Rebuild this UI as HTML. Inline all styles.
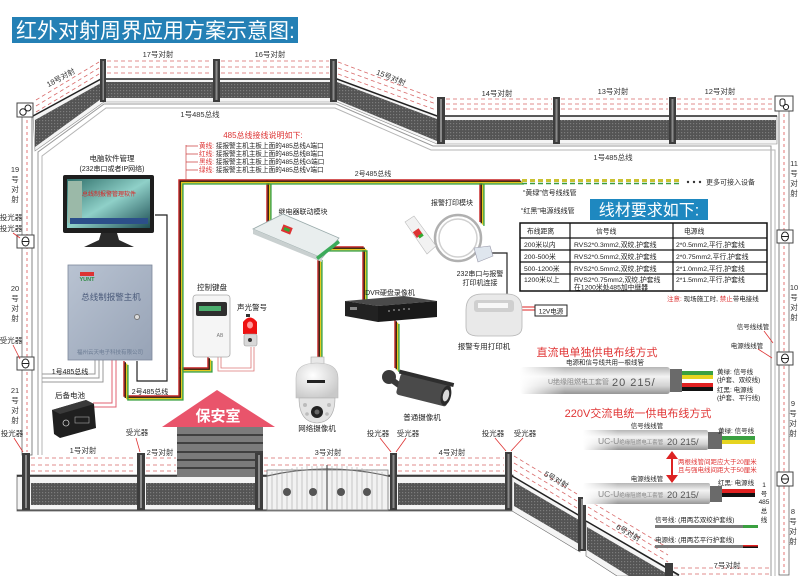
<!DOCTYPE html>
<html><head><meta charset="utf-8">
<style>
html,body{margin:0;padding:0;background:#fff;width:800px;height:576px;overflow:hidden;}
svg{display:block;}
text{font-family:"Liberation Sans","Noto Sans CJK SC",sans-serif;}
</style></head><body>
<svg width="800" height="576" viewBox="0 0 800 576" xmlns="http://www.w3.org/2000/svg" style="overflow:hidden">
<defs>
 <linearGradient id="tube" x1="0" y1="0" x2="0" y2="1">
  <stop offset="0" stop-color="#b5b5b5"/><stop offset="0.35" stop-color="#f3f3f3"/><stop offset="0.7" stop-color="#d2d2d2"/><stop offset="1" stop-color="#959595"/>
 </linearGradient>
 <linearGradient id="fadeL" x1="0" y1="0" x2="1" y2="0">
  <stop offset="0" stop-color="#fff" stop-opacity="1"/><stop offset="1" stop-color="#fff" stop-opacity="0"/>
 </linearGradient>
 <linearGradient id="scr" x1="0" y1="0" x2="1" y2="1">
  <stop offset="0" stop-color="#2f6f6a"/><stop offset="0.5" stop-color="#8fd0c8"/><stop offset="1" stop-color="#1f4f55"/>
 </linearGradient>
 <linearGradient id="host" x1="0" y1="0" x2="1" y2="1">
  <stop offset="0" stop-color="#b9c3d2"/><stop offset="1" stop-color="#97a3b6"/>
 </linearGradient>
 <radialGradient id="dome" cx="0.4" cy="0.35" r="0.7">
  <stop offset="0" stop-color="#ffffff"/><stop offset="1" stop-color="#c9c9c9"/>
 </radialGradient>
 <pattern id="mesh" width="3" height="3" patternUnits="userSpaceOnUse">
  <rect width="3" height="3" fill="#545454"/><rect width="1.2" height="1.2" fill="#7c7c7c"/>
 </pattern>
 <path id="bA" d="M520 180 H179 V396 H124 V361"/>
 <path id="bB" d="M267 180 V222"/>
 <path id="bC" d="M480 180 V222"/>
 <path id="bD" d="M318 247 H363 V300"/>
 <path id="bE" d="M318 256 V359"/>
 <path id="bF" d="M395 320 V368"/>
 <path id="bG" d="M179 368 H208 V357"/>
</defs>

<!-- Title -->
<rect x="12" y="17" width="286" height="26" fill="#2480b5"/>
<text x="16" y="38" font-size="21" fill="#fff">红外对射周界应用方案示意图:</text>

<!-- ================= TOP FENCE ================= -->
<g stroke="#d86a6a" stroke-width="0.8" stroke-dasharray="4,3" fill="none">
 <path d="M36 100 L99 62 M36 106 L99 68 M36 112 L99 74"/>
 <path d="M107 61 H212 M107 67 H212 M107 73 H212"/>
 <path d="M221 61 H329 M221 67 H329 M221 73 H329"/>
 <path d="M338 62 L436 99 M338 68 L436 104 M338 74 L436 110"/>
 <path d="M446 99 H552 M446 104 H552 M446 109 H552"/>
 <path d="M561 99 H668 M561 104 H668 M561 109 H668"/>
 <path d="M677 99 H774 M677 104 H774 M677 109 H774"/>
</g>
<polygon points="33,116 101,79 337,79 437,116 777,116 777,144 437,144 337,102 104,102 35,151" fill="#f4f4f4" stroke="#888" stroke-width="0.6"/>
<polygon points="35,120 101,83 101,99 35,147" fill="url(#mesh)"/>
<rect x="104" y="82" width="230" height="16" fill="url(#mesh)"/>
<polygon points="337,82 437,119 437,141 337,100" fill="url(#mesh)"/>
<rect x="445" y="120" width="331" height="20" fill="url(#mesh)"/>
<path d="M33 116 L101 79 H337 L437 116 H777" stroke="#222" stroke-width="1.5" fill="none"/>
<polyline points="38,455 38,152 104,104 336,104 433,146 771,146 771,576" fill="none" stroke="#9a9a9a" stroke-width="1"/>
<polyline points="42,455 42,156 106,108 335,108 431,150 775,150 775,576" fill="none" stroke="#b5b5b5" stroke-width="1"/>
<g fill="#3d3d3d">
 <rect x="100" y="59" width="6" height="43"/><rect x="213" y="59" width="7" height="43"/><rect x="330" y="59" width="7" height="43"/>
 <rect x="437" y="97" width="8" height="47"/><rect x="553" y="97" width="7" height="47"/><rect x="669" y="97" width="7" height="47"/>
</g>
<g fill="#8a8a8a">
 <rect x="102.5" y="61" width="1.5" height="39"/><rect x="215.5" y="61" width="2" height="39"/><rect x="332.5" y="61" width="2" height="39"/>
 <rect x="440" y="99" width="2" height="43"/><rect x="555.5" y="99" width="2" height="43"/><rect x="671.5" y="99" width="2" height="43"/>
</g>
<g font-size="7.5" fill="#333">
 <text x="62" y="80" transform="rotate(-28 62 80)" text-anchor="middle">18号对射</text>
 <text x="158" y="57" text-anchor="middle">17号对射</text>
 <text x="270" y="57" text-anchor="middle">16号对射</text>
 <text x="390" y="80" transform="rotate(22 390 80)" text-anchor="middle">15号对射</text>
 <text x="497" y="96" text-anchor="middle">14号对射</text>
 <text x="613" y="94" text-anchor="middle">13号对射</text>
 <text x="720" y="94" text-anchor="middle">12号对射</text>
 <text x="200" y="117" text-anchor="middle">1号485总线</text>
 <text x="613" y="160" text-anchor="middle">1号485总线</text>
</g>

<!-- ================= SIDE PILLARS ================= -->
<rect x="22" y="117" width="10" height="338" fill="#fff" stroke="#666" stroke-width="0.8"/>
<line x1="27" y1="120" x2="27" y2="452" stroke="#d55" stroke-width="0.8" stroke-dasharray="3,3"/>
<rect x="779" y="111" width="10" height="464" fill="#fff" stroke="#666" stroke-width="0.8"/>
<line x1="784" y1="114" x2="784" y2="575" stroke="#d55" stroke-width="0.8" stroke-dasharray="3,3"/>
<rect x="17" y="103" width="16" height="14" fill="#fff" stroke="#444"/>
<circle cx="23" cy="112" r="3.2" fill="none" stroke="#222"/><circle cx="28" cy="108" r="3" fill="none" stroke="#222"/>
<rect x="775" y="96" width="18" height="15" fill="#fff" stroke="#444"/>
<rect x="780" y="99" width="5" height="7" rx="2" fill="none" stroke="#222"/><circle cx="786" cy="107" r="2.6" fill="none" stroke="#222"/>
<g fill="#fff" stroke="#444" stroke-width="1">
 <rect x="17" y="235" width="17" height="13"/><rect x="17" y="357" width="17" height="13"/>
 <rect x="777" y="230" width="16" height="13"/><rect x="777" y="352" width="16" height="13"/><rect x="777" y="472" width="16" height="14"/>
</g>
<g fill="none" stroke="#222" stroke-width="1">
 <ellipse cx="25.5" cy="241.5" rx="3.5" ry="4.5"/><line x1="22" y1="241.5" x2="29" y2="241.5"/>
 <ellipse cx="25.5" cy="363.5" rx="3.5" ry="4.5"/><line x1="22" y1="363.5" x2="29" y2="363.5"/>
 <ellipse cx="785" cy="236.5" rx="3.5" ry="4.5"/><line x1="781.5" y1="236.5" x2="788.5" y2="236.5"/>
 <ellipse cx="785" cy="358.5" rx="3.5" ry="4.5"/><line x1="781.5" y1="358.5" x2="788.5" y2="358.5"/>
 <ellipse cx="785" cy="479" rx="3.5" ry="4.5"/><line x1="781.5" y1="479" x2="788.5" y2="479"/>
</g>
<g font-size="7.5" fill="#333" text-anchor="middle">
 <text x="11" y="220">投光器</text><text x="11" y="231">投光器</text><text x="11" y="343">受光器</text>
 <text y="172"><tspan x="15">19</tspan><tspan x="15" dy="10">号</tspan><tspan x="15" dy="10">对</tspan><tspan x="15" dy="10">射</tspan></text>
 <text y="291"><tspan x="15">20</tspan><tspan x="15" dy="10">号</tspan><tspan x="15" dy="10">对</tspan><tspan x="15" dy="10">射</tspan></text>
 <text y="393"><tspan x="15">21</tspan><tspan x="15" dy="10">号</tspan><tspan x="15" dy="10">对</tspan><tspan x="15" dy="10">射</tspan></text>
 <text y="166"><tspan x="794">11</tspan><tspan x="794" dy="10">号</tspan><tspan x="794" dy="10">对</tspan><tspan x="794" dy="10">射</tspan></text>
 <text y="290"><tspan x="794">10</tspan><tspan x="794" dy="10">号</tspan><tspan x="794" dy="10">对</tspan><tspan x="794" dy="10">射</tspan></text>
 <text y="406"><tspan x="793">9</tspan><tspan x="793" dy="10">号</tspan><tspan x="793" dy="10">对</tspan><tspan x="793" dy="10">射</tspan></text>
 <text y="514"><tspan x="793">8</tspan><tspan x="793" dy="10">号</tspan><tspan x="793" dy="10">对</tspan><tspan x="793" dy="10">射</tspan></text>
</g>
<g stroke="#d33" stroke-width="0.8" fill="none">
 <path d="M13 233 L20 238"/><path d="M13 345 L20 359"/>
 <path d="M764 331 L773 343"/><path d="M758 349 L772 358"/>
</g>

<!-- ================= BOTTOM FENCE ================= -->
<g stroke="#d86a6a" stroke-width="0.8" stroke-dasharray="4,3" fill="none">
 <path d="M31 458 H136 M31 465 H136 M31 471 H136"/>
 <path d="M146 458 H176 M146 465 H176 M146 471 H176"/>
 <path d="M264 458 H389 M264 465 H389 M264 471 H389"/>
 <path d="M398 458 H504 M398 465 H504 M398 471 H504"/>
 <path d="M514 456 L577 494 M514 463 L577 501 M514 470 L577 508"/>
 <path d="M588 500 L668 548 M588 507 L668 555 M588 514 L668 562"/>
 <path d="M674 568 H770 M674 574 H770"/>
</g>
<rect x="17" y="475" width="496" height="36" fill="#f4f4f4" stroke="#666" stroke-width="0.8"/>
<line x1="17" y1="476" x2="513" y2="476" stroke="#222" stroke-width="1.5"/>
<line x1="17" y1="510" x2="513" y2="510" stroke="#333" stroke-width="1"/>
<rect x="31" y="483" width="106" height="22" fill="url(#mesh)"/>
<rect x="146" y="483" width="109" height="22" fill="url(#mesh)"/>
<rect x="398" y="483" width="107" height="22" fill="url(#mesh)"/>
<polygon points="512,476 580,516 580,552 512,511" fill="#f4f4f4" stroke="#666" stroke-width="0.6"/>
<polygon points="514,482 579,520 579,544 514,506" fill="url(#mesh)"/>
<polygon points="586,521 679,576 617,576 586,556" fill="#f4f4f4" stroke="#666" stroke-width="0.6"/>
<polygon points="587,527 671,576 629,576 587,550" fill="url(#mesh)"/>
<path d="M512 476 L580 516 M586 521 L679 575" stroke="#222" stroke-width="1.5"/>
<rect x="267" y="470" width="121" height="40" fill="#f2f2f2" stroke="#777" stroke-width="0.8"/>
<path d="M267 476 Q327 462 388 476" fill="none" stroke="#666" stroke-width="1.2"/>
<g stroke="#aaa" stroke-width="0.6">
 <path d="M272 472 V510 M277 471 V510 M282 470 V510 M287 469 V510 M292 468 V510 M297 467 V510 M302 467 V510 M307 466 V510 M312 466 V510 M317 466 V510 M322 466 V510 M332 466 V510 M337 466 V510 M342 466 V510 M347 466 V510 M352 467 V510 M357 467 V510 M362 468 V510 M367 469 V510 M372 470 V510 M377 471 V510 M382 472 V510"/>
</g>
<line x1="327" y1="465" x2="327" y2="510" stroke="#555" stroke-width="1.2"/>
<g fill="#555">
 <circle cx="287" cy="492" r="4"/><circle cx="313" cy="492" r="4"/><circle cx="341" cy="492" r="4"/><circle cx="367" cy="492" r="4"/>
</g>
<rect x="177" y="427" width="86" height="50" fill="#7b7b7b"/>
<g stroke="#2d2d2d" stroke-width="1.5"><path d="M177 435 H263 M177 443 H263 M177 452 H263 M177 460 H263 M177 468 H263"/></g>
<polygon points="162,427 217,390 275,427" fill="#e9546b"/>
<text x="218" y="421" font-size="15" font-weight="bold" fill="#fff" text-anchor="middle">保安室</text>
<g fill="#3d3d3d">
 <rect x="22" y="453" width="8" height="57"/><rect x="137" y="453" width="8" height="57"/><rect x="255" y="453" width="8" height="57"/>
 <rect x="390" y="453" width="7" height="57"/><rect x="505" y="452" width="7" height="58"/><rect x="578" y="497" width="8" height="54"/>
 <rect x="665" y="563" width="8" height="13"/>
</g>
<g fill="#8a8a8a">
 <rect x="25" y="455" width="2" height="53"/><rect x="140" y="455" width="2" height="53"/><rect x="258" y="455" width="2" height="53"/>
 <rect x="392.5" y="455" width="2" height="53"/><rect x="507.5" y="454" width="2" height="54"/><rect x="581" y="499" width="2" height="50"/>
</g>
<g font-size="7.5" fill="#333" text-anchor="middle">
 <text x="83" y="453">1号对射</text><text x="160" y="455">2号对射</text><text x="328" y="455">3号对射</text><text x="452" y="455">4号对射</text>
 <text x="12" y="436">投光器</text><text x="137" y="435">受光器</text><text x="378" y="436">投光器</text><text x="408" y="436">受光器</text>
 <text x="493" y="436">投光器</text><text x="525" y="436">受光器</text>
 <text x="555" y="482" transform="rotate(30 555 482)">5号对射</text>
 <text x="627" y="535" transform="rotate(30 627 535)">6号对射</text>
 <text x="727" y="568">7号对射</text>
</g>
<g stroke="#d33" stroke-width="0.8" fill="none">
 <path d="M14 438 L23 452"/><path d="M136 438 L140 452"/><path d="M380 438 L391 452"/><path d="M406 438 L396 452"/>
 <path d="M495 438 L506 451"/><path d="M523 438 L511 451"/>
</g>

<!-- ================= WIRES ================= -->
<g fill="none" stroke-width="1.4">
 <g stroke="#c62020"><use href="#bA"/><use href="#bB"/><use href="#bC"/><use href="#bD"/><use href="#bE"/><use href="#bF"/><use href="#bG"/></g>
 <g stroke="#2a1a10" transform="translate(1.3,1.3)"><use href="#bA"/><use href="#bB"/><use href="#bC"/><use href="#bD"/><use href="#bE"/><use href="#bF"/><use href="#bG"/></g>
 <g stroke="#e6c81e" transform="translate(2.6,2.6)"><use href="#bA"/><use href="#bB"/><use href="#bC"/><use href="#bD"/><use href="#bE"/><use href="#bF"/><use href="#bG"/></g>
 <g stroke="#3aa040" transform="translate(3.9,3.9)"><use href="#bA"/><use href="#bB"/><use href="#bC"/><use href="#bD"/><use href="#bE"/><use href="#bF"/><use href="#bG"/></g>
</g>
<path d="M522 180.5 H680" stroke="#c9c130" stroke-width="3" stroke-dasharray="5,3"/>
<path d="M522 183.5 H680" stroke="#3a9a40" stroke-width="1.6" stroke-dasharray="5,3"/>
<g fill="#333"><circle cx="688" cy="182" r="1.2"/><circle cx="694" cy="182" r="1.2"/><circle cx="700" cy="182" r="1.2"/></g>
<text x="706" y="184.5" font-size="7" fill="#333">更多可接入设备</text>
<path d="M155 215 H167 V381 H137 V361" fill="none" stroke="#222" stroke-width="1.2"/>
<path d="M95 360 V374 H42 M99 360 V378 H42 M103 360 V382 H42" fill="none" stroke="#999" stroke-width="1"/>
<path d="M112 360 V403 H93 M116 360 V407 H93" fill="none" stroke="#e06070" stroke-width="1"/>
<path d="M218 357 V371 H254 V347 M221 357 V368 H251 V347" fill="none" stroke="#d77" stroke-width="0.8"/>
<path d="M487 253 H507 V295" fill="none" stroke="#222" stroke-width="1.2"/>
<path d="M522 307 H535 M522 310 H535" fill="none" stroke="#d22" stroke-width="1"/>

<text x="263" y="138" font-size="8" fill="#d33" text-anchor="middle">485总线接线说明如下:</text>
<path d="M186 145 V180 M186 146 H198 M186 154 H198 M186 162 H198 M186 170 H198" fill="none" stroke="#c44" stroke-width="0.7"/>
<g font-size="6.6" fill="#222">
 <text x="199" y="148"><tspan fill="#d33">黄线:</tspan> 接报警主机主板上面的485总线A端口</text>
 <text x="199" y="156"><tspan fill="#d33">红线:</tspan> 接报警主机主板上面的485总线B端口</text>
 <text x="199" y="164"><tspan fill="#d33">黑线:</tspan> 接报警主机主板上面的485总线G端口</text>
 <text x="199" y="172"><tspan fill="#d33">绿线:</tspan> 接报警主机主板上面的485总线V端口</text>
</g>
<text x="373" y="176" font-size="7" fill="#333" text-anchor="middle">2号485总线</text>

<!-- ================= DEVICES ================= -->
<text x="112" y="161" font-size="7.5" fill="#222" text-anchor="middle">电脑软件管理</text>
<text x="112" y="171" font-size="7" fill="#222" text-anchor="middle">(232串口或者IP网络)</text>
<rect x="63" y="175" width="91" height="58" rx="2" fill="#1e1e1e"/>
<rect x="67" y="179" width="83" height="49" fill="url(#scr)"/>
<rect x="68" y="181" width="14" height="42" fill="#9bb9a8"/>
<rect x="70" y="218" width="78" height="6" fill="#2c4f8a"/>
<text x="109" y="196" font-size="6" fill="#d22" text-anchor="middle">总线制报警管理软件</text>
<polygon points="101,233 117,233 119,240 134,247 84,247 99,240" fill="#2a2a2a"/>
<rect x="68" y="265" width="84" height="95" fill="url(#host)" stroke="#7d889b" stroke-width="0.8"/>
<rect x="80" y="272" width="14" height="4" fill="#d33"/>
<text x="87" y="281" font-size="5.5" fill="#2a8a40" text-anchor="middle" font-weight="bold">YUNT</text>
<text x="111" y="300" font-size="8.5" fill="#4a5a7a" text-anchor="middle">总线制报警主机</text>
<circle cx="137" cy="317" r="2.5" fill="#ddd" stroke="#777"/>
<text x="110" y="354" font-size="5.5" fill="#6a7a92" text-anchor="middle">福州云天电子科技有限公司</text>
<text x="70" y="374" font-size="7" fill="#222" text-anchor="middle">1号485总线</text>
<text x="150" y="394" font-size="7" fill="#222" text-anchor="middle">2号485总线</text>
<text x="70" y="398" font-size="7.5" fill="#222" text-anchor="middle">后备电池</text>
<polygon points="52,410 86,400 94,404 96,428 60,438 54,434" fill="#1f1f1f"/>
<polygon points="52,410 86,400 94,404 60,414" fill="#3a3a3a"/>
<circle cx="66" cy="423" r="3" fill="none" stroke="#ccc" stroke-width="0.8"/>
<rect x="75" y="417" width="14" height="6" fill="none" stroke="#aaa" stroke-width="0.6"/>
<text x="303" y="214" font-size="7" fill="#222" text-anchor="middle">继电器联动模块</text>
<polygon points="253,229 283,214 339,238 322,258" fill="#e9eeee" stroke="#9aa" stroke-width="0.8"/>
<polygon points="253,229 322,258 322,262 253,234" fill="#c9d0d0"/>
<polygon points="316,257 338,240 340,243 318,260" fill="#3cab5a"/>
<rect x="282" y="226" width="10" height="7" fill="#d33" transform="rotate(22 287 229)"/>
<rect x="284" y="228" width="6" height="3" fill="#3a3" transform="rotate(22 287 229)"/>
<text x="212" y="290" font-size="7.5" fill="#222" text-anchor="middle">控制键盘</text>
<rect x="193" y="295" width="37" height="62" rx="3" fill="#f5f5f5" stroke="#aaa" stroke-width="0.8"/>
<rect x="196" y="302" width="31" height="14" rx="2" fill="#2e2e2e"/>
<rect x="199" y="306" width="22" height="5" fill="#4cae6e"/>
<text x="220" y="337" font-size="5" fill="#777" text-anchor="middle">AB</text>
<text x="252" y="310" font-size="7.5" fill="#222" text-anchor="middle">声光警号</text>
<rect x="246" y="314" width="4" height="3" fill="#333"/>
<path d="M243 334 V322 Q250 313 257 322 V334 Z" fill="#e11"/>
<ellipse cx="250" cy="325" rx="3" ry="3.5" fill="#ff9a9a"/>
<rect x="244" y="334" width="13" height="12" rx="2" fill="#d8d8d8" stroke="#999" stroke-width="0.6"/>
<circle cx="250" cy="340" r="2" fill="#333"/>
<text x="390" y="295" font-size="7" fill="#222" text-anchor="middle">DVR硬盘录像机</text>
<polygon points="345,301 404,296 437,301 378,306" fill="#4a4a4a"/>
<polygon points="345,301 378,306 378,322 345,316" fill="#222"/>
<polygon points="378,306 437,301 437,317 378,322" fill="#1a1a1a"/>
<rect x="350" y="307" width="7" height="3" fill="#888"/>
<g fill="#666"><rect x="388" y="310" width="2" height="2"/><rect x="393" y="309" width="2" height="2"/><rect x="398" y="309" width="2" height="2"/><rect x="403" y="308" width="2" height="2"/><rect x="408" y="308" width="2" height="2"/></g>
<rect x="311" y="357" width="13" height="7" fill="#e8e8e8" stroke="#aaa" stroke-width="0.6"/>
<path d="M296 398 V378 Q296 363 317 363 Q338 363 338 378 V398 Z" fill="url(#dome)" stroke="#bbb" stroke-width="0.6"/>
<rect x="307" y="380" width="18" height="3" fill="#222"/>
<path d="M299 398 H335 Q335 422 317 423 Q299 422 299 398 Z" fill="#e3e3e3" stroke="#aaa" stroke-width="0.6"/>
<circle cx="317" cy="412" r="6" fill="#222"/>
<circle cx="317" cy="412" r="2.5" fill="#666"/>
<g fill="#bbb"><circle cx="305" cy="405" r="2"/><circle cx="329" cy="405" r="2"/><circle cx="307" cy="414" r="1.8"/><circle cx="327" cy="414" r="1.8"/></g>
<text x="317" y="431" font-size="7.5" fill="#222" text-anchor="middle">网络摄像机</text>
<circle cx="389" cy="377" r="7" fill="#3a3a3a"/>
<path d="M392 380 L403 388" stroke="#3a3a3a" stroke-width="6"/>
<g transform="rotate(14 420 388)">
 <rect x="398" y="378" width="52" height="22" rx="3" fill="#4a4a4a"/>
 <rect x="396" y="375" width="56" height="4" fill="#2e2e2e"/>
 <ellipse cx="447" cy="389" rx="5" ry="10" fill="#2a2a2a"/>
 <ellipse cx="447" cy="389" rx="3" ry="6" fill="#d9d9d9"/>
</g>
<text x="422" y="420" font-size="7.5" fill="#222" text-anchor="middle">普通摄像机</text>
<text x="452" y="205" font-size="7" fill="#222" text-anchor="middle">报警打印模块</text>
<ellipse cx="458" cy="238" rx="23" ry="23" fill="none" stroke="#b0b0b0" stroke-width="2.5"/>
<ellipse cx="458" cy="238" rx="19" ry="19" fill="none" stroke="#d0d0d0" stroke-width="1.5"/>
<polygon points="405,222 414,216 436,246 427,254" fill="#f2f2f2" stroke="#bbb" stroke-width="0.6"/>
<rect x="414" y="230" width="7" height="7" fill="#d33" transform="rotate(-35 417 233)"/>
<rect x="416" y="236" width="5" height="3" fill="#3a3" transform="rotate(-35 417 233)"/>
<polygon points="474,248 490,246 493,256 478,262" fill="#dfe6ee" stroke="#99a" stroke-width="0.6"/>
<text x="480" y="276" font-size="7" fill="#222" text-anchor="middle">232串口与报警</text>
<text x="480" y="285" font-size="7" fill="#222" text-anchor="middle">打印机连接</text>
<path d="M466 310 Q466 294 482 294 H507 Q522 294 522 310 V327 Q522 336 510 336 H478 Q466 336 466 327 Z" fill="#e9e9e9" stroke="#b5b5b5" stroke-width="0.8"/>
<rect x="474" y="300" width="40" height="12" rx="3" fill="#cfcfcf"/>
<rect x="478" y="303" width="30" height="5" fill="#f7f7f7"/>
<text x="484" y="349" font-size="7.5" fill="#222" text-anchor="middle">报警专用打印机</text>
<rect x="535" y="305" width="32" height="11" fill="#fff" stroke="#222" stroke-width="1"/>
<text x="551" y="313.5" font-size="6.5" fill="#222" text-anchor="middle">12V电源</text>

<!-- ================= TABLE ================= -->
<text x="523" y="195" font-size="7" fill="#222">“黄绿”信号线线管</text>
<text x="521" y="213" font-size="7" fill="#222">“红黑”电源线线管</text>
<rect x="590" y="199" width="118" height="21" fill="#1e88c0"/>
<text x="649" y="215.5" font-size="16" fill="#fff" text-anchor="middle">线材要求如下:</text>
<rect x="520" y="223" width="247" height="68" fill="#fff" stroke="#111" stroke-width="1.5"/>
<g stroke="#111" stroke-width="1.2">
 <line x1="570" y1="223" x2="570" y2="291"/><line x1="673" y1="223" x2="673" y2="291"/>
 <line x1="520" y1="238" x2="767" y2="238"/><line x1="520" y1="250" x2="767" y2="250"/>
 <line x1="520" y1="262" x2="767" y2="262"/><line x1="520" y1="274" x2="767" y2="274"/>
</g>
<g font-size="6.8" fill="#222">
 <text x="527" y="233.5">布线距离</text><text x="596" y="233.5">信号线</text><text x="684" y="233.5">电源线</text>
 <text x="524" y="247">200米以内</text><text x="574" y="247">RVS2*0.3mm2,双绞,护套线</text><text x="676" y="247">2*0.5mm2,平行,护套线</text>
 <text x="524" y="259">200-500米</text><text x="574" y="259">RVS2*0.5mm2,双绞,护套线</text><text x="676" y="259">2*0.75mm2,平行,护套线</text>
 <text x="524" y="271">500-1200米</text><text x="574" y="271">RVS2*0.5mm2,双绞,护套线</text><text x="676" y="271">2*1.0mm2,平行,护套线</text>
 <text x="524" y="282">1200米以上</text><text x="574" y="282">RVS2*0.75mm2,双绞,护套线</text><text x="676" y="282">2*1.5mm2,平行,护套线</text>
 <text x="574" y="289.5">在1200米处485加中继器</text>
</g>
<text x="667" y="301" font-size="6.5" fill="#222"><tspan fill="#d33">注意:</tspan> 现场施工时, <tspan fill="#d33">禁止</tspan>带电接线</text>

<!-- ================= CABLES ================= -->
<text x="753" y="329" font-size="6.5" fill="#222" text-anchor="middle">信号线线管</text>
<text x="747" y="348" font-size="6.5" fill="#222" text-anchor="middle">电源线线管</text>
<text x="597" y="356" font-size="11" fill="#e03535" text-anchor="middle">直流电单独供电布线方式</text>
<text x="605" y="364.5" font-size="6.5" fill="#222" text-anchor="middle">电源和信号线共用一根线管</text>
<rect x="520" y="367" width="150" height="27" rx="3" fill="url(#tube)"/>
<rect x="520" y="366" width="45" height="29" fill="url(#fadeL)"/>
<text x="548" y="384" font-size="7" fill="#8a8a8a">U绝缘阻燃电工套管</text>
<text x="612" y="386" font-size="11" fill="#555" letter-spacing="1">20 215/</text>
<rect x="670" y="369" width="12" height="23" fill="#6a6a6a"/>
<rect x="682" y="371" width="31" height="4" fill="#3aa040"/><rect x="682" y="375" width="31" height="4" fill="#e6d420"/>
<rect x="682" y="383" width="31" height="4" fill="#e02020"/><rect x="682" y="387" width="31" height="4" fill="#111"/>
<g font-size="6.5" fill="#222">
 <text x="717" y="374">黄绿: 信号线</text><text x="717" y="382">(护套、双绞线)</text>
 <text x="717" y="392">红黑: 电源线</text><text x="717" y="400">(护套、平行线)</text>
</g>
<text x="638" y="417" font-size="11" fill="#e03535" text-anchor="middle">220V交流电统一供电布线方式</text>
<text x="647" y="428" font-size="6.5" fill="#222" text-anchor="middle">信号线线管</text>
<rect x="583" y="430" width="125" height="20" rx="2" fill="url(#tube)"/>
<rect x="583" y="429" width="35" height="22" fill="url(#fadeL)"/>
<text x="598" y="444" font-size="8.5" fill="#888">UC-U<tspan font-size="5.5">绝缘阻燃电工套管</tspan></text>
<text x="667" y="445" font-size="9.5" fill="#555">20 215/</text>
<rect x="708" y="432" width="14" height="17" fill="#6a6a6a"/>
<rect x="722" y="436" width="33" height="4" fill="#3aa040"/><rect x="722" y="440" width="33" height="4" fill="#e6d420"/>
<text x="718" y="433" font-size="6.5" fill="#222">黄绿: 信号线</text>
<line x1="672" y1="456" x2="672" y2="478" stroke="#d22" stroke-width="2"/>
<polygon points="666,459 672,451 678,459" fill="#d22"/><polygon points="666,475 672,483 678,475" fill="#d22"/>
<text x="678" y="464" font-size="6.5" fill="#e03535">两根线管间距应大于20厘米</text>
<text x="678" y="472" font-size="6.5" fill="#e03535">且与强电线间距大于50厘米</text>
<text x="647" y="481" font-size="6.5" fill="#222" text-anchor="middle">电源线线管</text>
<rect x="583" y="483" width="127" height="21" rx="2" fill="url(#tube)"/>
<rect x="583" y="482" width="35" height="23" fill="url(#fadeL)"/>
<text x="598" y="497" font-size="8.5" fill="#888">UC-U<tspan font-size="5.5">绝缘阻燃电工套管</tspan></text>
<text x="667" y="498" font-size="9.5" fill="#555">20 215/</text>
<rect x="710" y="486" width="12" height="16" fill="#6a6a6a"/>
<rect x="722" y="489" width="33" height="4" fill="#e02020"/><rect x="722" y="493" width="33" height="4" fill="#111"/>
<text x="718" y="485" font-size="6.5" fill="#222">红黑: 电源线</text>
<g font-size="6.5" fill="#222" text-anchor="middle">
 <text x="764" y="487">1</text><text x="764" y="496">号</text><text x="764" y="504">485</text><text x="764" y="513">总</text><text x="764" y="522">线</text>
</g>
<text x="655" y="522" font-size="6.5" fill="#222">信号线: (用两芯双绞护套线)</text>
<rect x="655" y="525" width="88" height="3" fill="#7a7a7a"/><rect x="743" y="525" width="15" height="3" fill="#3aa040"/>
<text x="655" y="542" font-size="6.5" fill="#222">电源线: (用两芯平行护套线)</text>
<rect x="655" y="545" width="88" height="3" fill="#7a7a7a"/><rect x="743" y="545" width="15" height="1.5" fill="#e02020"/><rect x="743" y="546.5" width="15" height="1.5" fill="#111"/>
</svg>
</body></html>
